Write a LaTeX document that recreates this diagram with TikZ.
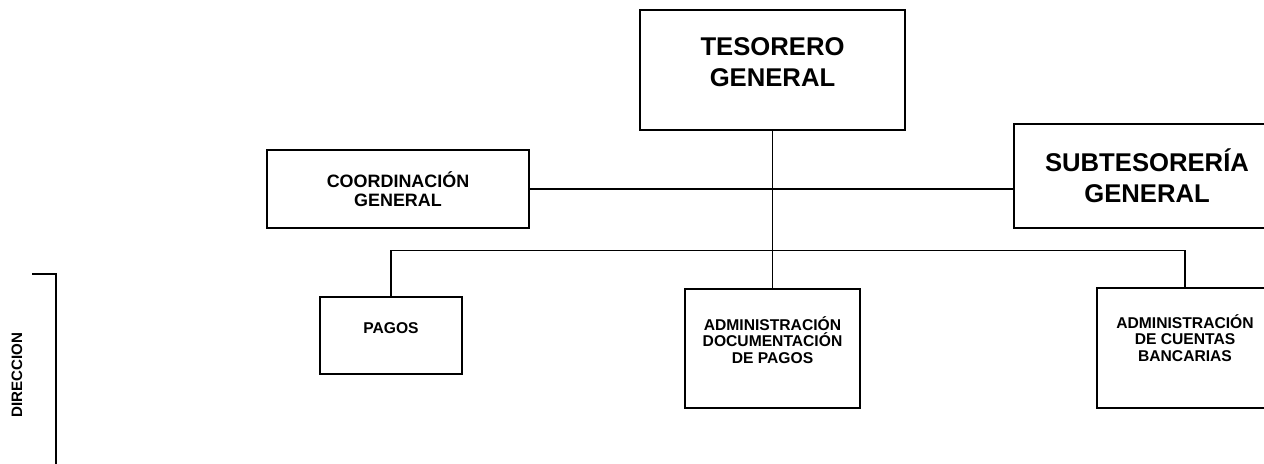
\documentclass[tikz,border=0pt]{standalone}
\usepackage{fontspec}
\setmainfont{Liberation Sans}
\usepackage{tikz}

\tikzset{
  caja/.style={draw, rectangle, line width=1.1pt, inner sep=0pt},
  grande/.style={font=\bfseries\fontsize{14.6}{17.4}\selectfont, align=center},
  mediana/.style={font=\bfseries\fontsize{10.2}{10.6}\selectfont, align=center},
  chica/.style={font=\bfseries\fontsize{8.9}{9.2}\selectfont, align=center},
  linea/.style={line width=1.1pt}
}

\begin{document}
\begin{tikzpicture}

        \useasboundingbox (0,0) rectangle (25.28,-9.28);

        % cabeza
        \node[caja, minimum width=5.3cm, minimum height=2.4cm,
              label={[grande, yshift=0.16cm]center:TESORERO\\GENERAL}] (tesorero) at (15.45,-1.4) {};

        % staff
        \node[caja, mediana, minimum width=5.24cm, minimum height=1.56cm] (coord) at (7.96,-3.78) {COORDINACIÓN\\GENERAL};
        \node[caja, grande, minimum width=5.32cm, minimum height=2.08cm] (subtes) at (22.94,-3.52) {SUBTESORERÍA\\GENERAL};

        % areas
        \node[caja, minimum width=2.84cm, minimum height=1.54cm,
              label={[chica, yshift=0.14cm]center:PAGOS}] (pagos) at (7.82,-6.71) {};
        \node[caja, minimum width=3.5cm, minimum height=2.38cm,
              label={[chica, yshift=0.17cm]center:ADMINISTRACIÓN\\DOCUMENTACIÓN\\DE PAGOS}] (admdoc) at (15.45,-6.97) {};
        \node[caja, minimum width=3.52cm, minimum height=2.4cm,
              label={[chica, yshift=0.2cm]center:ADMINISTRACIÓN\\DE CUENTAS\\BANCARIAS}] (admcta) at (23.7,-6.96) {};

        \coordinate (bus) at (0,-5.01);

        \path[draw,linea]
        (tesorero.south) -- (admdoc.north)
        (coord.east) -- (coord.east -| subtes.west)
        (pagos.north) |- (bus -| admcta.north) -- (admcta.north)
        ;

        % direccion
        \node[font=\bfseries\fontsize{8.6}{9}\selectfont, rotate=90] (dir) at (0.34,-7.5) {DIRECCION};
        \draw[linea] (0.64,-5.48) -- (1.12,-5.48) -- (1.12,-9.4);

\end{tikzpicture}
\end{document}
